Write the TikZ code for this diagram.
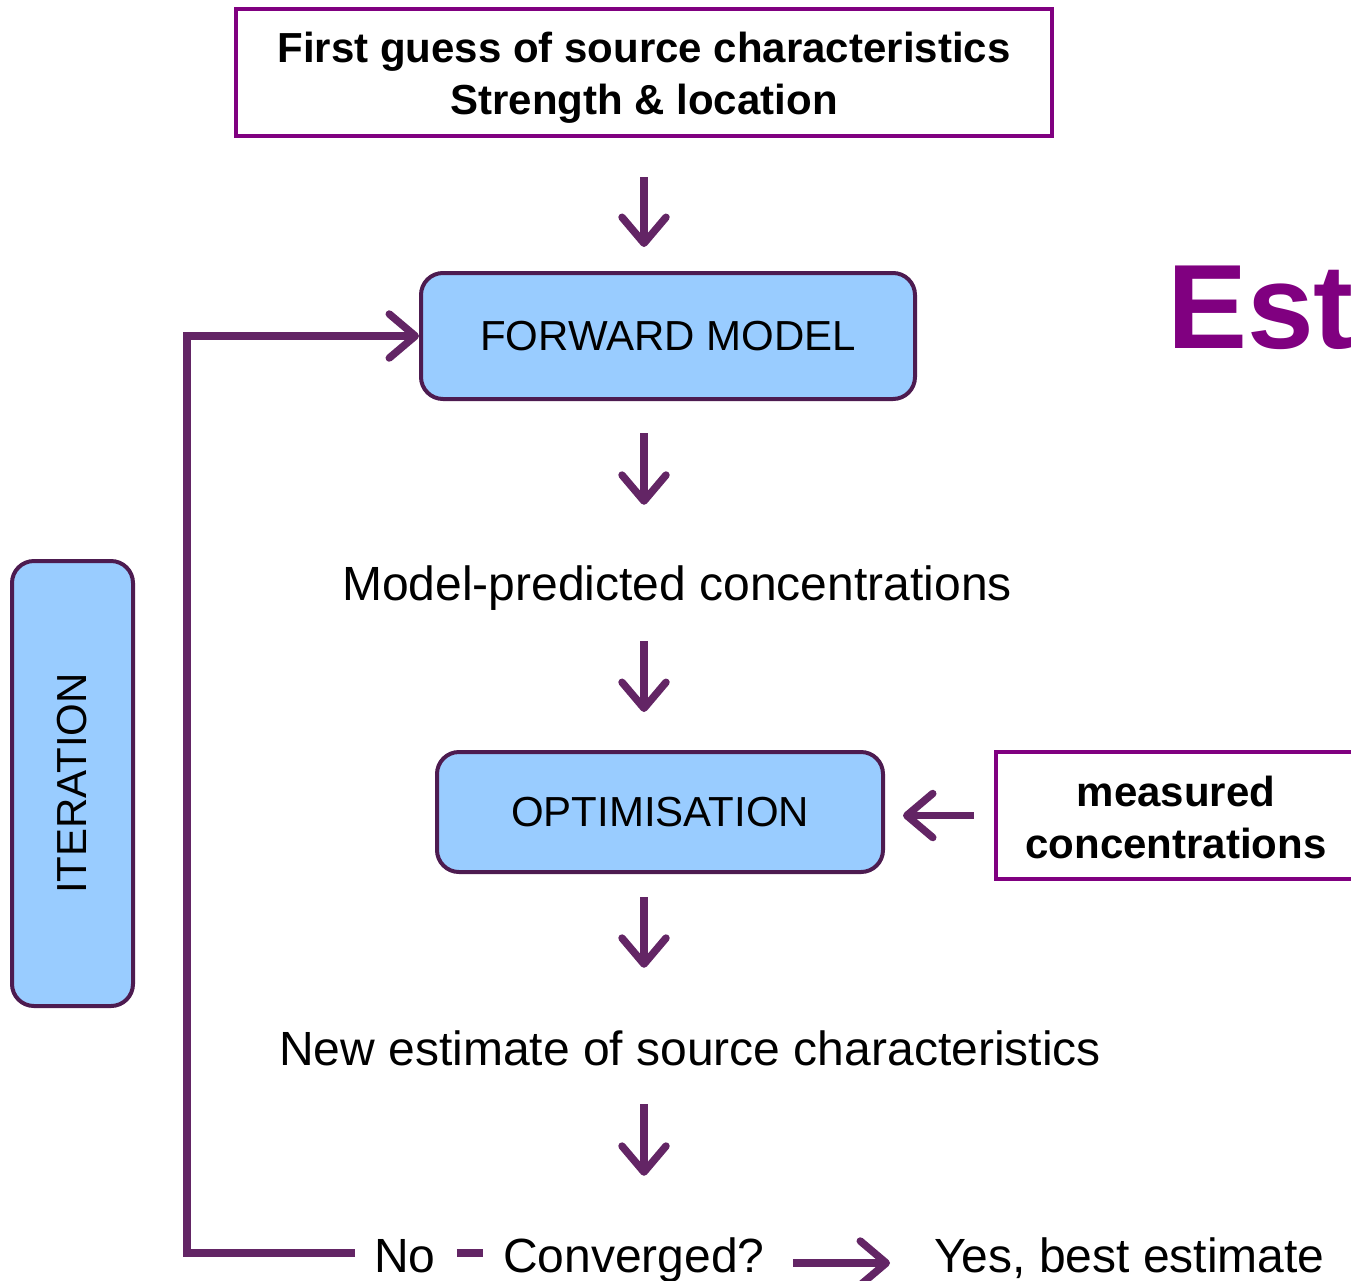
\documentclass[tikz,border=0pt]{standalone}
\usepackage{fontspec}
\setmainfont{Liberation Sans}
\usetikzlibrary{arrows.meta}

\definecolor{framepurple}{RGB}{128,0,128}
\definecolor{arrowpurple}{RGB}{99,37,101}
\definecolor{edgepurple}{RGB}{77,27,80}
\definecolor{boxblue}{RGB}{153,204,255}

\begin{document}
\begin{tikzpicture}[x=1pt,y=-1pt]
        \tikzstyle{every node}=[inner sep=0pt, font=\fontsize{48}{56}\selectfont]
        \tikzstyle{frame}=[draw=framepurple, line width=4.5pt, align=center, font=\bfseries\fontsize{42}{52}\selectfont]
        \tikzstyle{bluebox}=[draw=edgepurple, fill=boxblue, line width=4pt, rounded corners=22pt, font=\fontsize{42}{50}\selectfont]
        \tikzstyle{label}=[text height=35pt, text depth=10pt]
        \tikzstyle{arr}=[draw=arrowpurple, line width=7.5pt, -{Straight Barb[length=26pt, width=44pt, round]}]
        \tikzstyle{link}=[draw=arrowpurple, line width=7.5pt]

        \useasboundingbox (0,0) rectangle (1351,1280);
        \clip (0,0) rectangle (1351,1280);

        % boxes
        \node[frame, minimum width=816pt, minimum height=127pt] (guess) at (644,72.5) {\rule{0pt}{41pt}First guess of source characteristics\\Strength \& location};
        \node[bluebox, minimum width=494pt, minimum height=126pt] (forward) at (668,336) {FORWARD MODEL};
        \node[bluebox, minimum width=446pt, minimum height=120pt] (optim) at (660,812) {OPTIMISATION};
        \node[frame, minimum width=360pt, minimum height=127pt] (measured) at (1176,815.5) {\rule{0pt}{35pt}measured\\concentrations};
        \node[bluebox, rotate=90, minimum width=445pt, minimum height=121pt] (iteration) at (72.5,783.5) {ITERATION};
        \node[anchor=base west, text=framepurple, font=\bfseries\fontsize{120}{120}\selectfont] (est) at (1167,348) {Est};

        % texts
        \node[label, anchor=base] (predicted) at (677,600) {Model-predicted concentrations};
        \node[label, anchor=base] (newest) at (690,1065) {New estimate of source characteristics};
        \node[label, anchor=base west] (no) at (374,1272) {No};
        \node[label, anchor=base west] (converged) at (503,1272) {Converged?};
        \node[label, anchor=base west] (yes) at (934,1272) {Yes, best estimate};
        \coordinate (loopcorner) at (187,1253);

        % arrows
        \draw[arr, shorten <=39pt, shorten >=24pt] (guess.south) -- (guess.south |- forward.north);
        \draw[arr, shorten <=32pt, shorten >=60pt] (forward.south -| guess.south) -- (predicted.north -| guess.south);
        \draw[arr, shorten <=31pt, shorten >=38pt] (predicted.south -| guess.south) -- (optim.north -| guess.south);
        \draw[arr, shorten <=23pt, shorten >=62pt] (optim.south -| guess.south) -- (newest.north -| guess.south);
        \draw[arr, shorten <=29pt, shorten >=61pt] (newest.south -| guess.south) -- (converged.north -| guess.south);
        \draw[arr, shorten <=20pt, shorten >=18pt] (measured.west) -- (measured.west -| optim.east);
        \draw[arr, shorten <=19pt] ([yshift=6.5pt]no.west) -- (loopcorner) |- (forward.west);
        \draw[link, shorten <=21pt, shorten >=20pt] ([yshift=6.5pt]no.east) -- ([yshift=6.5pt]converged.west);
        \draw[arr, shorten <=28pt, shorten >=44pt] ([yshift=-3.5pt]converged.east) -- ([yshift=-3.5pt]yes.west);
\end{tikzpicture}
\end{document}
